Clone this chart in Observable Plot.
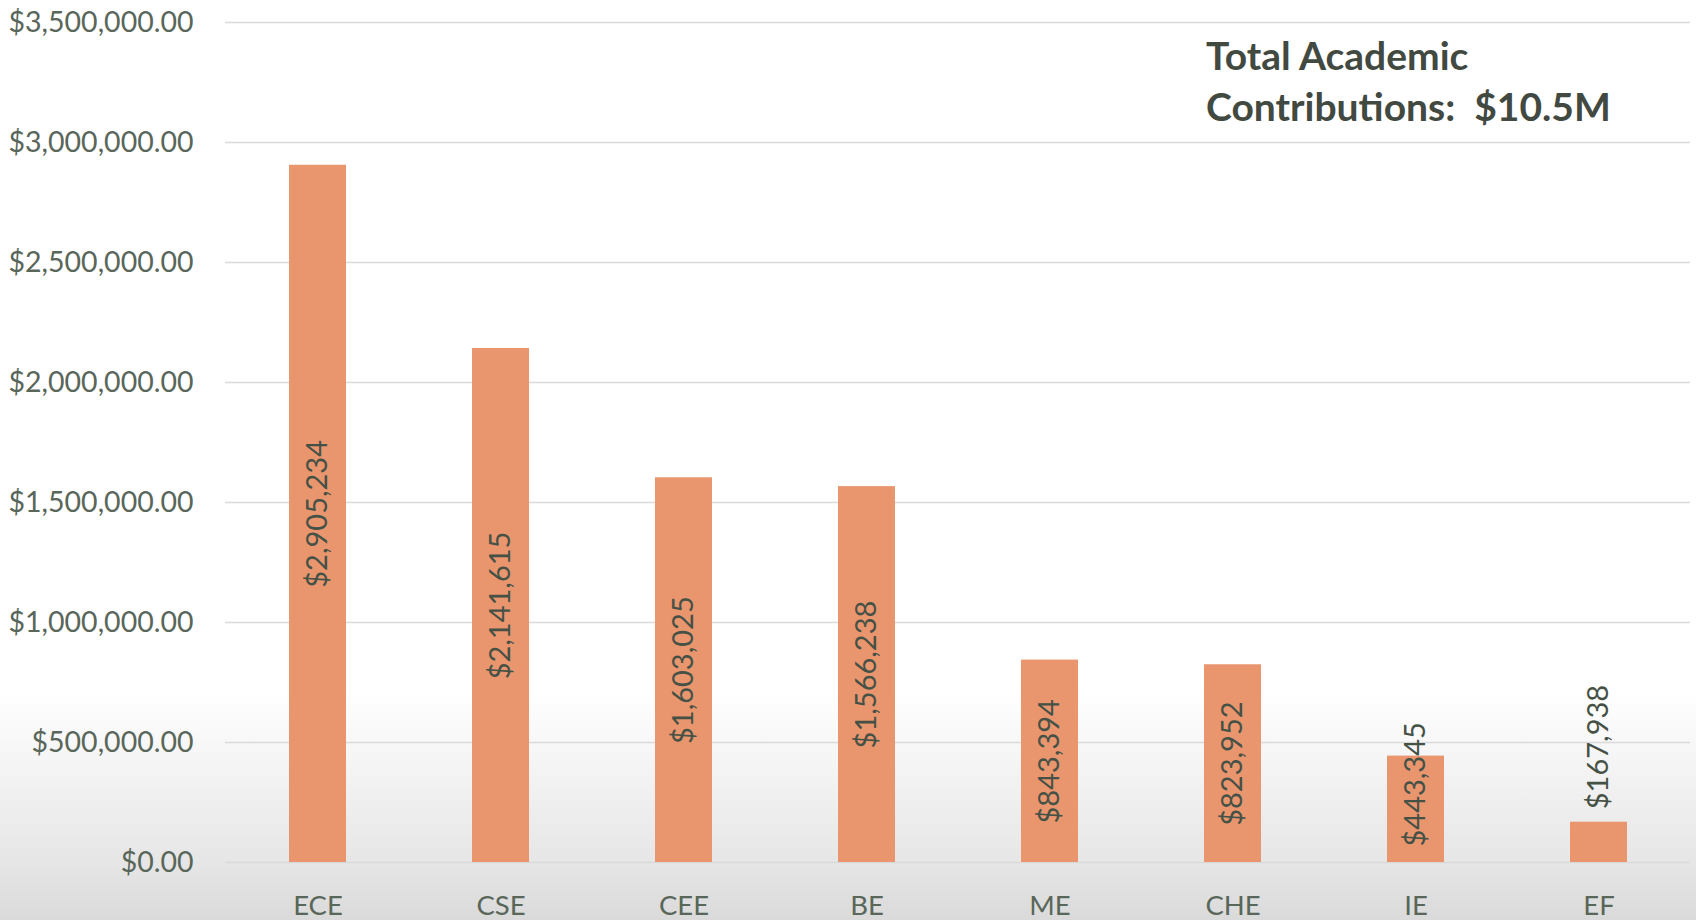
<!DOCTYPE html>
<html>
<head>
<meta charset="utf-8">
<script src="https://cdn.jsdelivr.net/npm/d3@7"></script>
<script src="https://cdn.jsdelivr.net/npm/@observablehq/plot@0.6"></script>
<style>
  html, body { margin: 0; padding: 0; }
  body { width: 1696px; height: 920px; overflow: hidden;
    background: linear-gradient(to bottom, #ffffff 0px, #ffffff 690px, #e6e6e6 862px, #dadada 920px); }
  #wrap { position: relative; width: 1696px; height: 920px; }
  #title { position: absolute; left: 1206px; top: 30px; font-family: Lato, sans-serif; font-weight: bold;
    font-size: 39px; line-height: 51px; color: #414941; white-space: pre; }
  svg { background: transparent !important; }
</style>
</head>
<body>
<div id="wrap"><div id="chart"></div><div id="title">Total Academic
Contributions:  $10.5M</div></div>
<script>
const departments = ["ECE", "CSE", "CEE", "BE", "ME", "CHE", "IE", "EF"];
const contributions = [2905234, 2141615, 1603025, 1566238, 843394, 823952, 443345, 167938];
const yTicks = [0, 500000, 1000000, 1500000, 2000000, 2500000, 3000000, 3500000];

const data = departments.map((d, i) => ({dept: d, value: contributions[i]}));
const fmtAxis = v => "$" + d3.format(",.2f")(v);
const fmtLabel = v => "$" + d3.format(",")(v);
const textColor = "#59665a";
const labelColor = "#465146";
const font = "Lato, sans-serif";

const chart = Plot.plot({
  width: 1696,
  height: 920,
  marginLeft: 225,
  marginRight: 6,
  marginTop: 22,
  marginBottom: 58,
  style: {fontFamily: font, background: "transparent", color: textColor},
  x: {domain: departments, paddingInner: 0.69, paddingOuter: 0.345, label: null},
  y: {domain: [0, 3500000], label: null},
  marks: [
    Plot.gridY(yTicks, {stroke: "#d9d9d9", strokeOpacity: 1, strokeWidth: 1.5}),
    Plot.barY(data, {x: "dept", y: "value", fill: "#e9966f"}),
    Plot.text(data.filter(d => d.value >= 600000), {
      x: "dept", y: d => d.value / 2, text: d => fmtLabel(d.value),
      rotate: -90, textAnchor: "middle", fontSize: 29, fill: labelColor
    }),
    Plot.text(data.filter(d => d.value >= 300000 && d.value < 600000), {
      x: "dept", y: 0, text: d => fmtLabel(d.value),
      rotate: -90, textAnchor: "start", dy: -16, fontSize: 29, fill: labelColor
    }),
    Plot.text(data.filter(d => d.value < 300000), {
      x: "dept", y: "value", text: d => fmtLabel(d.value),
      rotate: -90, textAnchor: "start", dy: -13, fontSize: 29, fill: labelColor
    }),
    Plot.axisY(yTicks, {tickSize: 0, tickPadding: 32, tickFormat: fmtAxis, fontSize: 28.5, fill: textColor, label: null}),
    Plot.axisX({tickSize: 0, tickPadding: 33, fontSize: 27.5, fill: textColor, label: null})
  ]
});
document.getElementById("chart").appendChild(chart);
</script>
</body>
</html>
